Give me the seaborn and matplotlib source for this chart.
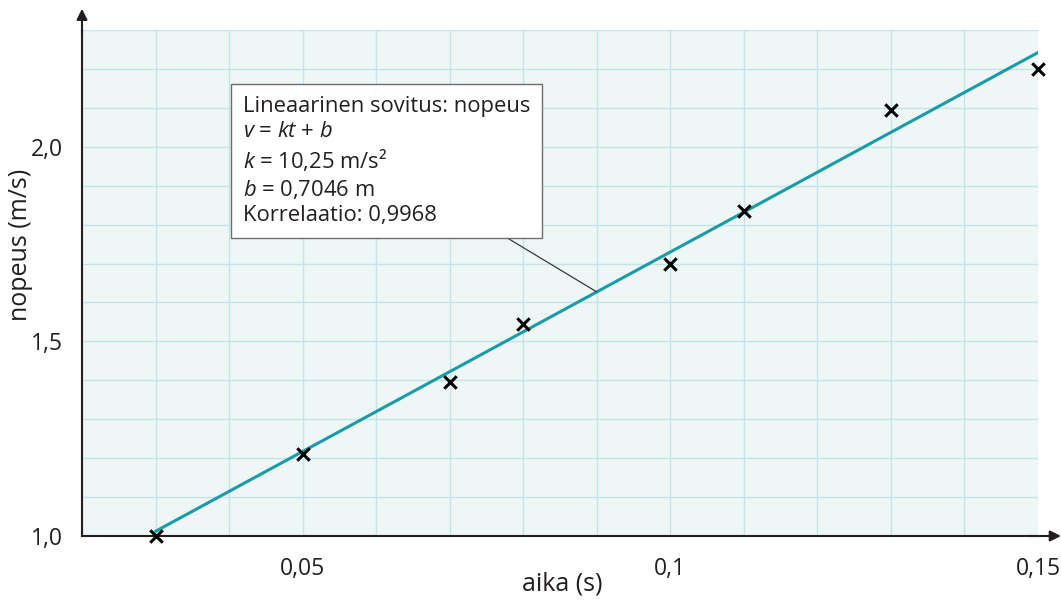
import numpy as np
import pandas as pd
import matplotlib
matplotlib.use("Agg")
import matplotlib.pyplot as plt
import seaborn as sns
from matplotlib.ticker import FixedLocator

# data
time_s = [0.03, 0.05, 0.07, 0.08, 0.10, 0.11, 0.13, 0.15]
speed = [1.00, 1.21, 1.395, 1.545, 1.70, 1.835, 2.095, 2.20]
k_fit = 10.25
b_fit = 0.7046
fit_x = [0.03, 0.15]
x_major = [0.05, 0.10, 0.15]
x_major_labels = ["0,05", "0,1", "0,15"]
y_major = [1.0, 1.5, 2.0]
y_major_labels = ["1,0", "1,5", "2,0"]
box_lines = ["Lineaarinen sovitus: nopeus",
             r"$v$ = $kt$ + $b$",
             r"$k$ = 10,25 m/s²",
             r"$b$ = 0,7046 m",
             "Korrelaatio: 0,9968"]

sns.set_theme(style="white")
plt.rcParams['font.family'] = ['Open Sans', 'DejaVu Sans']
plt.rcParams['mathtext.fontset'] = 'custom'
plt.rcParams['mathtext.it'] = 'Open Sans:italic'
plt.rcParams['mathtext.rm'] = 'Open Sans'

fig = plt.figure(figsize=(10.61, 6.02), dpi=100)
ax = fig.add_axes([82/1061, 1-536/602, (1038-82)/1061, (536-30)/602])
ax.set_facecolor("#eff6f6")

grid_c = "#c3e5ea"
ax.set_xlim(0.02, 0.15)
ax.set_ylim(1.0, 2.3)
ax.xaxis.set_major_locator(FixedLocator(x_major))
ax.set_xticklabels(x_major_labels)
ax.xaxis.set_minor_locator(FixedLocator(np.round(np.arange(0.02, 0.1501, 0.01), 3)))
ax.yaxis.set_major_locator(FixedLocator(y_major))
ax.set_yticklabels(y_major_labels)
ax.yaxis.set_minor_locator(FixedLocator(np.round(np.arange(1.0, 2.301, 0.1), 2)))
ax.grid(True, which="both", color=grid_c, lw=1.0)
ax.set_axisbelow(True)

ink = "#231f20"
ax.tick_params(axis="both", which="major", direction="out", length=10, width=1.5,
               color=ink, labelsize=16.5, labelcolor=ink, pad=4)
ax.tick_params(axis="both", which="minor", direction="out", length=5, width=1.3, color=ink)
ax.tick_params(axis="x", which="major", pad=5)

for s in ["top", "right"]:
    ax.spines[s].set_visible(False)
for s in ["left", "bottom"]:
    ax.spines[s].set_color(ink)
    ax.spines[s].set_linewidth(1.5)

# fit line
fit_df = pd.DataFrame({"t": fit_x, "v": [k_fit * x + b_fit for x in fit_x]})
sns.lineplot(data=fit_df, x="t", y="v", color="#1a9ca6", lw=2.2, ax=ax, zorder=3)

# data points
pts = pd.DataFrame({"t": time_s, "v": speed})
sns.scatterplot(data=pts, x="t", y="v", marker="x", color="black", s=80,
                linewidth=2.2, ax=ax, zorder=4, clip_on=False)

# axis arrows
ax.annotate("", xy=(1.024, 0), xytext=(0.99, 0), xycoords="axes fraction",
            arrowprops=dict(arrowstyle="-|>", color=ink, lw=1.5, mutation_scale=16,
                            shrinkA=0, shrinkB=0))
ax.annotate("", xy=(0, 1.042), xytext=(0, 0.99), xycoords="axes fraction",
            arrowprops=dict(arrowstyle="-|>", color=ink, lw=1.5, mutation_scale=16,
                            shrinkA=0, shrinkB=0))

ax.set_xlabel("aika (s)", fontsize=18, color=ink)
ax.set_ylabel("nopeus (m/s)", fontsize=18, color=ink)
ax.xaxis.set_label_coords(0.502, -0.071)
ax.yaxis.set_label_coords((33-82)/956, 0.575)

# annotation box with leader line
ax.annotate("\n".join(box_lines), xy=(0.09, k_fit * 0.09 + b_fit),
            xytext=(0.0419, 2.13), textcoords="data",
            fontsize=15.8, color=ink, va="top", ha="left", linespacing=1.25,
            bbox=dict(boxstyle="square,pad=0.55", fc="white", ec="#6d6d6d", lw=1.0),
            arrowprops=dict(arrowstyle="-", color="#3a3a3a", lw=0.9,
                            relpos=(0.85, 0.0), shrinkA=0, shrinkB=0),
            zorder=5)

fig.savefig("out.png", dpi=100)
